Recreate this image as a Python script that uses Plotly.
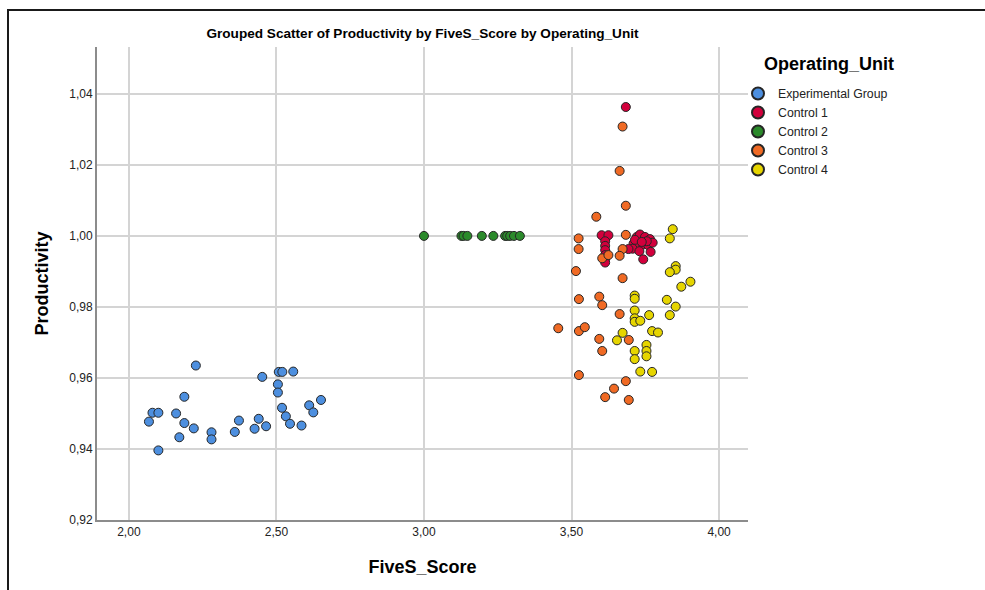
import plotly.graph_objects as go

# ---------------- data ----------------
exp_x = [2.227, 2.452, 2.508, 2.520, 2.557, 2.505, 2.505, 2.188, 2.080, 2.100,
         2.068, 2.160, 2.188, 2.220, 2.171, 2.280, 2.280, 2.359, 2.373, 2.426,
         2.440, 2.465, 2.519, 2.532, 2.546, 2.585, 2.611, 2.625, 2.651, 2.100]
exp_y = [0.9635, 0.9603, 0.9617, 0.9617, 0.9618, 0.9582, 0.9559, 0.9547, 0.9502, 0.9502,
         0.9477, 0.9500, 0.9473, 0.9458, 0.9433, 0.9447, 0.9427, 0.9448, 0.9480, 0.9457,
         0.9485, 0.9464, 0.9516, 0.9492, 0.9471, 0.9466, 0.9523, 0.9503, 0.9538, 0.9396]

c1_x = [3.684, 3.602, 3.625, 3.614, 3.614, 3.614, 3.614, 3.614, 3.614,
        3.721, 3.732, 3.749, 3.766, 3.710, 3.727, 3.743, 3.760, 3.775,
        3.707, 3.730, 3.768, 3.743, 3.693, 3.715, 3.755, 3.738]
c1_y = [1.0363, 1.0002, 1.0002, 0.9985, 0.9972, 0.9960, 0.9946, 0.9936, 0.9925,
        0.9997, 1.0004, 0.9997, 0.9991, 0.9978, 0.9976, 0.9976, 0.9974, 0.9981,
        0.9964, 0.9957, 0.9955, 0.9934, 0.9963, 0.9989, 0.9985, 0.9983]

c2_x = [3.000, 3.127, 3.134, 3.147, 3.196, 3.235, 3.275, 3.282, 3.292, 3.305, 3.325]
c2_y = [1.000, 1.000, 1.000, 1.000, 1.000, 1.000, 1.000, 1.000, 1.000, 1.000, 1.000]

c3_x = [3.673, 3.663, 3.684, 3.584, 3.524, 3.684, 3.524, 3.673, 3.604, 3.663,
        3.515, 3.673, 3.525, 3.594, 3.604, 3.663, 3.455, 3.525, 3.545, 3.594,
        3.694, 3.604, 3.525, 3.684, 3.644, 3.614, 3.694, 3.625]
c3_y = [1.0308, 1.0183, 1.0085, 1.0054, 0.9993, 1.0003, 0.9963, 0.9963, 0.9937, 0.9944,
        0.9901, 0.9881, 0.9822, 0.9829, 0.9805, 0.9780, 0.9740, 0.9732, 0.9743, 0.9710,
        0.9707, 0.9676, 0.9608, 0.9591, 0.9570, 0.9546, 0.9538, 0.9946]

c4_x = [3.843, 3.833, 3.853, 3.853, 3.833, 3.903, 3.872, 3.714, 3.714, 3.823,
        3.853, 3.833, 3.714, 3.714, 3.714, 3.733, 3.763, 3.773, 3.793, 3.673,
        3.654, 3.714, 3.714, 3.754, 3.754, 3.754, 3.733, 3.773]
c4_y = [1.0019, 0.9993, 0.9915, 0.9905, 0.9898, 0.9871, 0.9857, 0.9832, 0.9823, 0.9820,
        0.9801, 0.9777, 0.9790, 0.9768, 0.9758, 0.9761, 0.9777, 0.9732, 0.9728, 0.9727,
        0.9706, 0.9676, 0.9653, 0.9693, 0.9676, 0.9661, 0.9618, 0.9617]

groups = ["Experimental Group", "Control 1", "Control 2", "Control 3", "Control 4"]
colors = ["#4d8fdf", "#d2003c", "#2b8a2b", "#f06a24", "#e6d500"]
series = [(exp_x, exp_y), (c1_x, c1_y), (c2_x, c2_y), (c3_x, c3_y), (c4_x, c4_y)]

x_ticks = [2.0, 2.5, 3.0, 3.5, 4.0]
x_tick_text = ["2,00", "2,50", "3,00", "3,50", "4,00"]
y_ticks = [0.92, 0.94, 0.96, 0.98, 1.00, 1.02, 1.04]
y_tick_text = ["0,92", "0,94", "0,96", "0,98", "1,00", "1,02", "1,04"]

FONT = "Liberation Sans, Arial, sans-serif"

fig = go.Figure()
for name, col, (xs, ys) in zip(groups, colors, series):
    fig.add_trace(go.Scatter(
        x=xs, y=ys, mode="markers", name=name,
        marker=dict(size=9, color=col, line=dict(color="#262626", width=1)),
    ))

fig.update_layout(
    width=985, height=590,
    margin=dict(l=97, r=237, t=47, b=70),
    paper_bgcolor="white", plot_bgcolor="white",
    font=dict(family=FONT, color="#000000"),
    title=dict(text="<b>Grouped Scatter of Productivity by FiveS_Score by Operating_Unit</b>",
               x=(97 + 651 / 2) / 985, xanchor="center", y=1 - 33 / 590, yanchor="middle",
               font=dict(size=13.6, family=FONT, color="#000")),
    xaxis=dict(range=[1.892, 4.098], tickvals=x_ticks, ticktext=x_tick_text,
               showgrid=True, gridcolor="#d4d4d4", gridwidth=2,
               showline=True, linecolor="#8c8c8c", linewidth=2,
               zeroline=False, ticks="", tickfont=dict(size=12, family=FONT, color="#222"),
               title=dict(text="<b>FiveS_Score</b>", font=dict(size=18, family=FONT), standoff=22)),
    yaxis=dict(range=[0.92, 1.0532], tickvals=y_ticks, ticktext=y_tick_text,
               showgrid=True, gridcolor="#d4d4d4", gridwidth=2,
               showline=True, linecolor="#8c8c8c", linewidth=2,
               zeroline=False, ticks="", tickfont=dict(size=12, family=FONT, color="#222"),
               title=dict(text="<b>Productivity</b>", font=dict(size=18, family=FONT), standoff=16)),
    legend=dict(x=(738 - 97) / 651, xanchor="left", y=(520 - 79) / 473, yanchor="top",
                font=dict(size=12.3, family=FONT, color="#222"),
                itemsizing="constant", tracegroupgap=0, bgcolor="rgba(0,0,0,0)"),
    showlegend=True,
)

fig.add_annotation(text="<b>Operating_Unit</b>", xref="paper", yref="paper",
                   x=(762 - 97) / 651, xanchor="left", y=(520 - 64) / 473, yanchor="middle",
                   showarrow=False, font=dict(size=18, family=FONT, color="#000"))

# outer frame (border of the output panel)
fig.add_shape(type="rect", xref="paper", yref="paper",
              x0=(8 - 97) / 651, x1=(1000 - 97) / 651,
              y0=(520 - 610) / 473, y1=(520 - 10) / 473,
              line=dict(color="#1a1a1a", width=2), layer="above")

fig.write_html("out.html")
